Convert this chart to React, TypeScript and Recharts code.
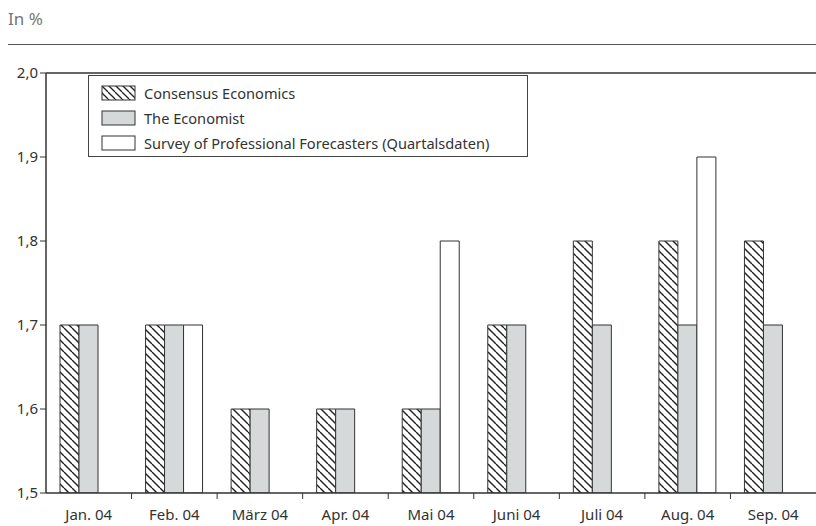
import { BarChart, Bar, XAxis, YAxis, ReferenceLine, Legend } from 'recharts'

const months = ['Jan. 04', 'Feb. 04', 'März 04', 'Apr. 04', 'Mai 04', 'Juni 04', 'Juli 04', 'Aug. 04', 'Sep. 04']
const consensus = [1.7, 1.7, 1.6, 1.6, 1.6, 1.7, 1.8, 1.8, 1.8]
const economist = [1.7, 1.7, 1.6, 1.6, 1.6, 1.7, 1.7, 1.7, 1.7]
const spf = [null, 1.7, null, null, 1.8, null, null, 1.9, null]
const yTicks = [1.5, 1.6, 1.7, 1.8, 1.9, 2.0]

const data = months.map((m, i) => ({
  month: m,
  consensus: consensus[i],
  economist: economist[i],
  spf: spf[i]
}))

const FONT = '"Noto Sans", "Open Sans", sans-serif'
const INK = '#333'
const PLOT_LEFT = 46
const PLOT_RIGHT = 816
const BAND = (PLOT_RIGHT - PLOT_LEFT) / months.length

const series = [
  { key: 'consensus', name: 'Consensus Economics', fill: 'url(#hatch)' },
  { key: 'economist', name: 'The Economist', fill: '#d5d9d9' },
  { key: 'spf', name: 'Survey of Professional Forecasters (Quartalsdaten)', fill: '#ffffff' }
]

const XTick = (props: any) => {
  const { x, y, payload, index } = props
  const left = x - BAND / 2
  return (
    <g>
      {index > 0 && <line x1={left} y1={y - 8} x2={left} y2={y - 2} stroke={INK} strokeWidth={1} />}
      <text x={x} y={y + 19} textAnchor="middle" fontSize={15} fill={INK} fontFamily={FONT}>
        {payload.value}
      </text>
    </g>
  )
}

const LegendBox = () => (
  <div
    style={{
      position: 'absolute',
      left: 88,
      top: 75,
      width: 440,
      height: 82,
      border: '1px solid #444',
      background: '#fff',
      fontFamily: FONT,
      fontSize: 14.6,
      color: INK,
      boxSizing: 'border-box',
      paddingTop: 4
    }}
  >
    {series.map((s, i) => (
      <div key={s.key} style={{ display: 'flex', alignItems: 'center', height: 25, paddingLeft: 12 }}>
        <svg width={36} height={16} style={{ marginRight: 7 }}>
          <defs>
            <pattern id={'lhatch' + i} patternUnits="userSpaceOnUse" width={7} height={7}>
              <line x1={0} y1={0} x2={7} y2={7} stroke="#222" strokeWidth={1.3} />
              <line x1={-7} y1={0} x2={0} y2={7} stroke="#222" strokeWidth={1.3} />
              <line x1={7} y1={0} x2={14} y2={7} stroke="#222" strokeWidth={1.3} />
            </pattern>
          </defs>
          <rect
            x={1}
            y={1}
            width={33}
            height={14}
            fill={s.key === 'consensus' ? `url(#lhatch${i})` : s.fill}
            stroke="#333"
            strokeWidth={1}
          />
        </svg>
        <span>{s.name}</span>
      </div>
    ))}
  </div>
)

export default function App() {
  return (
    <div style={{ position: 'absolute', left: 0, top: 0, width: 816, height: 526, background: '#fff' }}>
      <div style={{ position: 'absolute', left: 8, top: 7, fontFamily: FONT, fontSize: 17, color: '#777' }}>In %</div>
      <div style={{ position: 'absolute', left: 8, top: 44, width: 808, height: 1, background: '#555' }} />
      <BarChart
        width={816}
        height={526}
        data={data}
        margin={{ top: 73, right: 0, left: 0, bottom: 0 }}
        barGap={0}
        barSize={19}
      >
        <defs>
          <pattern id="hatch" patternUnits="userSpaceOnUse" width={8} height={8}>
            <line x1={0} y1={0} x2={8} y2={8} stroke="#222" strokeWidth={1.4} />
            <line x1={-8} y1={0} x2={0} y2={8} stroke="#222" strokeWidth={1.4} />
            <line x1={8} y1={0} x2={16} y2={8} stroke="#222" strokeWidth={1.4} />
          </pattern>
        </defs>
        <XAxis
          dataKey="month"
          tickLine={false}
          axisLine={{ stroke: INK, strokeWidth: 1.5 }}
          tick={<XTick />}
          interval={0}
          height={33}
        />
        <YAxis
          width={46}
          domain={[1.5, 2.0]}
          ticks={yTicks}
          allowDataOverflow
          tickFormatter={(v: number) => v.toFixed(1).replace('.', ',')}
          tick={{ fontSize: 15, fill: INK, fontFamily: FONT }}
          tickLine={{ stroke: INK }}
          tickSize={6}
          axisLine={{ stroke: INK, strokeWidth: 1.5 }}
        />
        <ReferenceLine y={2.0} stroke={INK} strokeWidth={1.5} />
        {series.map((s) => (
          <Bar
            key={s.key}
            dataKey={s.key}
            name={s.name}
            fill={s.fill}
            stroke="#333"
            strokeWidth={1}
            isAnimationActive={false}
          />
        ))}
        <Legend content={() => <LegendBox />} wrapperStyle={{ position: 'absolute', left: 0, top: 0, width: 0, height: 0 }} />
      </BarChart>
    </div>
  )
}
